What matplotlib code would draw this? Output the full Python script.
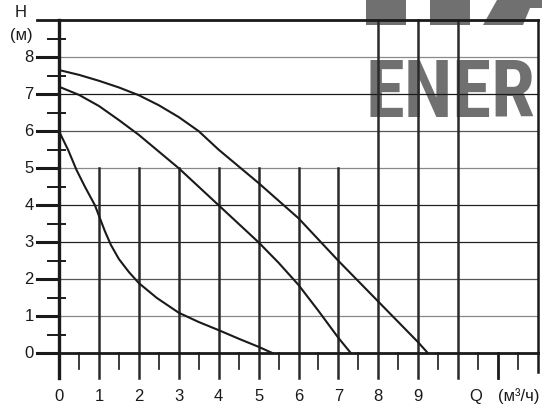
import numpy as np
import matplotlib
matplotlib.use('Agg')
import matplotlib.pyplot as plt
from matplotlib.patches import Rectangle, Polygon

plt.rcParams['font.family'] = ['Liberation Sans', 'DejaVu Sans']

# pump curves, Q (m3/h) vs H (m)
q_low = [0, 0.23, 0.44, 0.65, 0.9, 1.0, 1.15, 1.3, 1.5, 1.75, 2.0, 2.45, 3.0, 3.5, 4.0, 4.5, 5.0, 5.37]
h_low = [6.0, 5.49, 4.95, 4.5, 4.0, 3.72, 3.3, 2.93, 2.55, 2.2, 1.9, 1.5, 1.1, 0.85, 0.63, 0.4, 0.18, 0.0]

q_mid = [0, 0.5, 1.0, 1.5, 2.0, 2.5, 3.0, 4.0, 5.0, 5.5, 6.0, 6.5, 7.0, 7.32]
h_mid = [7.2, 6.98, 6.68, 6.3, 5.9, 5.45, 5.0, 4.0, 3.0, 2.45, 1.85, 1.15, 0.42, 0.0]

q_high = [0, 0.5, 1.0, 1.5, 2.0, 2.5, 3.0, 3.5, 4.0, 4.5, 5.0, 6.0, 7.0, 8.0, 9.0, 9.25]
h_high = [7.65, 7.52, 7.36, 7.18, 6.97, 6.7, 6.38, 6.0, 5.5, 5.05, 4.6, 3.65, 2.5, 1.4, 0.3, 0.0]

q_ticks = [0, 1, 2, 3, 4, 5, 6, 7, 8, 9]
h_ticks = [0, 1, 2, 3, 4, 5, 6, 7, 8]

fig = plt.figure(figsize=(5.42, 4.09), dpi=100)
ax = fig.add_axes([0, 0, 1, 1])
ax.set_xlim(-1.478, 12.1)
ax.set_ylim(-1.498, 9.54)
ax.axis('off')

# watermark behind the grid
wm = '#707070'
ax.text(366 / 542, 1 - 117 / 409, 'ENER', transform=fig.transFigure,
        family=['Roboto Condensed', 'DejaVu Sans Condensed', 'Noto Sans Condensed',
                'Liberation Sans Narrow', 'DejaVu Sans'],
        stretch='condensed', weight='bold',
        fontsize=57, color=wm, ha='left', va='baseline', zorder=0)
for x0, w in [(366, 40), (430, 40)]:
    ax.add_patch(Rectangle((x0 / 542, 1 - 25 / 409), w / 542, 25 / 409,
                           transform=fig.transFigure, color=wm, zorder=0, lw=0))
pts = [(483, 25), (497, 0), (542, 0), (542, 8), (530, 8), (523, 25)]
ax.add_patch(Polygon([(px / 542, 1 - py / 409) for px, py in pts],
                     transform=fig.transFigure, color=wm, zorder=0, lw=0))

# horizontal grid
grid_cols = ['#888888', '#555555', '#222222', '#222222', '#888888', '#555555', '#1a1a1a', '#8a8a8a']
for h, c in zip(range(1, 9), grid_cols):
    ax.plot([0, 12], [h, h], color=c, lw=0.9, zorder=1)

# vertical grid
for q in range(1, 8):
    ax.plot([q, q], [-0.66, 5], color='#2a2a2a', lw=1.8, zorder=2)
for q in [8, 9, 10]:
    ax.plot([q, q], [-0.66, 9], color='#2a2a2a', lw=1.8, zorder=2)
ax.plot([11, 11], [-0.66, 0], color='#1a1a1a', lw=2.0, zorder=2)
ax.plot([12, 12], [-0.5, 9], color='#1a1a1a', lw=1.8, zorder=2)
for q in np.arange(0.5, 12, 1.0):
    ax.plot([q, q], [-0.43, 0], color='#1a1a1a', lw=1.2, zorder=2)

# axes and frame
ax.plot([0, 0], [-0.66, 9], color='#1a1a1a', lw=2.4, zorder=3)
ax.plot([-0.55, 12], [0, 0], color='#1a1a1a', lw=2.0, zorder=3)
ax.plot([-0.55, 12], [9, 9], color='#1a1a1a', lw=2.0, zorder=3)
for h in h_ticks:
    ax.plot([-0.55, 0], [h, h], color='#1a1a1a', lw=2.2, zorder=3)
for h in np.arange(0.5, 9, 1.0):
    ax.plot([-0.275, 0.15], [h, h], color='#1a1a1a', lw=1.4, zorder=3)

# curves
for q, h in [(q_low, h_low), (q_mid, h_mid), (q_high, h_high)]:
    ax.plot(q, h, color='#1a1a1a', lw=1.5, zorder=4, solid_capstyle='butt')

# labels
for h in h_ticks:
    ax.text(-0.63, h, str(h), ha='right', va='center', fontsize=12, color='#1a1a1a')
for q in q_ticks:
    ax.text(q, -1.15, str(q), ha='center', va='center', fontsize=12, color='#1a1a1a')
ax.text(-0.95, 9.2, 'H', ha='center', va='center', fontsize=12, color='#1a1a1a')
ax.text(-0.95, 8.57, '(м)', ha='center', va='center', fontsize=12, color='#1a1a1a')
ax.text(10.45, -1.15, 'Q', ha='center', va='center', fontsize=12, color='#1a1a1a')
ax.text(11.52, -1.15, '(м³/ч)', ha='center', va='center', fontsize=12, color='#1a1a1a')

fig.savefig('out.png', dpi=100)
